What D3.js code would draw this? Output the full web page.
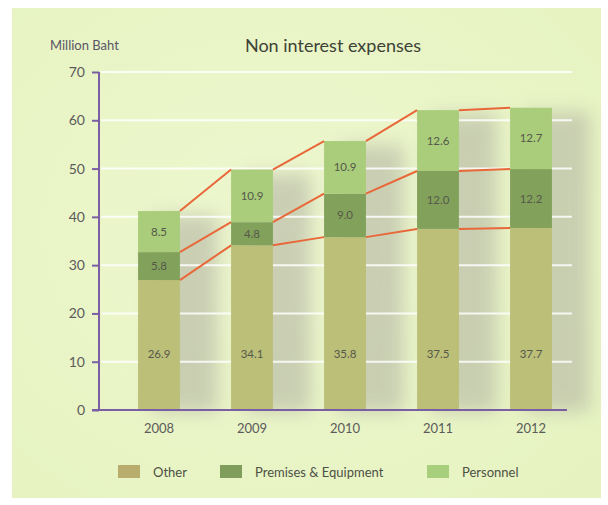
<!DOCTYPE html>
<html>
<head>
<meta charset="utf-8">
<script src="https://cdn.jsdelivr.net/npm/d3@7/dist/d3.min.js"></script>
<style>
  html, body { margin: 0; padding: 0; background: #ffffff; }
  svg { display: block; font-family: "Lato", "Open Sans", sans-serif; }
</style>
</head>
<body>
<svg id="chart" width="608" height="505"></svg>
<script>
// Non interest expenses, million Baht
const years = ["2008", "2009", "2010", "2011", "2012"];
const other = [26.9, 34.1, 35.8, 37.5, 37.7];
const premises = [5.8, 4.8, 9.0, 12.0, 12.2];
const personnel = [8.5, 10.9, 10.9, 12.6, 12.7];
const seriesNames = ["Other", "Premises & Equipment", "Personnel"];
const yTicks = [0, 10, 20, 30, 40, 50, 60, 70];

const colors = {
  "Other": "#bcbf78",
  "Premises & Equipment": "#82a25c",
  "Personnel": "#a9cd7a"
};
const legendColors = {
  "Other": "#b9ad6e",
  "Premises & Equipment": "#7f9e5c",
  "Personnel": "#a8d07c"
};

const rows = years.map((y, i) => ({
  year: y,
  "Other": other[i],
  "Premises & Equipment": premises[i],
  "Personnel": personnel[i]
}));
const stacked = d3.stack().keys(seriesNames)(rows);

const svg = d3.select("#chart");

const defs = svg.append("defs");
defs.append("filter").attr("id", "soft")
  .attr("x", "-60%").attr("y", "-20%").attr("width", "220%").attr("height", "140%")
  .append("feGaussianBlur").attr("stdDeviation", 9);
const panelGrad = defs.append("radialGradient").attr("id", "panelGrad")
  .attr("cx", "45%").attr("cy", "45%").attr("r", "75%");
panelGrad.append("stop").attr("offset", "0%").attr("stop-color", "#eef7cf");
panelGrad.append("stop").attr("offset", "100%").attr("stop-color", "#e6f3c0");

// panel
svg.append("rect")
  .attr("x", 12).attr("y", 8).attr("width", 589).attr("height", 490)
  .attr("fill", "url(#panelGrad)");

const x = d3.scaleBand().domain(years).range([112.5, 577.5])
  .paddingInner(0.55).paddingOuter(0.275);
const y = d3.scaleLinear().domain([0, 70]).range([410, 72]);
const total = i => other[i] + premises[i] + personnel[i];

// soft bar shadows
svg.append("g").selectAll("rect")
  .data(rows)
  .join("rect")
  .attr("x", d => x(d.year) + 14)
  .attr("y", (d, i) => y(total(i)) + 4)
  .attr("width", x.bandwidth() + 24)
  .attr("height", (d, i) => y(0) - y(total(i)) - 2)
  .attr("fill", "#a9a99c")
  .attr("opacity", 0.5)
  .attr("filter", "url(#soft)");

// white gridlines
svg.append("g").selectAll("line")
  .data(yTicks.filter(t => t > 0))
  .join("line")
  .attr("x1", 101).attr("x2", 572)
  .attr("y1", d => y(d)).attr("y2", d => y(d))
  .attr("stroke", "#ffffff").attr("stroke-width", 2).attr("opacity", 0.85);

// stacked bars
const layer = svg.append("g").selectAll("g")
  .data(stacked)
  .join("g")
  .attr("fill", d => colors[d.key]);
layer.selectAll("rect")
  .data(d => d)
  .join("rect")
  .attr("x", d => x(d.data.year))
  .attr("y", d => y(d[1]))
  .attr("width", x.bandwidth())
  .attr("height", d => y(d[0]) - y(d[1]));

// connecting lines between segment tops
const connectors = svg.append("g")
  .attr("stroke", "#e8683a").attr("stroke-width", 2).attr("fill", "none");
stacked.forEach(s => {
  for (let i = 0; i < s.length - 1; i++) {
    connectors.append("line")
      .attr("x1", x(years[i]) + x.bandwidth())
      .attr("y1", y(s[i][1]))
      .attr("x2", x(years[i + 1]))
      .attr("y2", y(s[i + 1][1]));
  }
});

// value labels: the base segment labels share one baseline
const labels = svg.append("g")
  .attr("font-size", 11.5).attr("fill", "#55584a").attr("text-anchor", "middle");
stacked.forEach(s => {
  s.forEach(d => {
    const v = d[1] - d[0];
    labels.append("text")
      .attr("x", x(d.data.year) + x.bandwidth() / 2)
      .attr("y", s.key === "Other" ? y(11.7) + 4 : (y(d[0]) + y(d[1])) / 2 + 4)
      .text(v.toFixed(1));
  });
});

// y axis
const yAxis = svg.append("g")
  .attr("transform", "translate(99,0)")
  .call(d3.axisLeft(y).tickValues(yTicks).tickSize(7).tickPadding(7));
yAxis.select(".domain").attr("stroke", "#7a5fa5").attr("stroke-width", 2)
  .attr("d", `M0,${y(70)}V${y(0)}`);
yAxis.selectAll(".tick line").attr("stroke", "#7a5fa5").attr("stroke-width", 2);
yAxis.selectAll(".tick text").attr("font-size", 14).attr("fill", "#5b5b5b")
  .attr("font-family", "Lato, sans-serif");

// x axis
svg.append("line")
  .attr("x1", 92).attr("x2", 567).attr("y1", y(0)).attr("y2", y(0))
  .attr("stroke", "#7a5fa5").attr("stroke-width", 2);
const xAxis = svg.append("g")
  .attr("transform", `translate(0,${y(0)})`)
  .call(d3.axisBottom(x).tickSize(0).tickPadding(14));
xAxis.select(".domain").remove();
xAxis.selectAll(".tick text").attr("font-size", 13).attr("fill", "#5b5b5b")
  .attr("font-family", "Lato, sans-serif");

// titles
svg.append("text").attr("x", 50).attr("y", 50)
  .attr("font-size", 13).attr("fill", "#5a5566").text("Million Baht");
svg.append("text").attr("x", 333).attr("y", 52).attr("text-anchor", "middle")
  .attr("font-size", 18).attr("fill", "#3d4236").text("Non interest expenses");

// legend
const legendPos = [
  { sx: 118, tx: 153 },
  { sx: 220, tx: 255 },
  { sx: 427, tx: 462 }
];
const legend = svg.append("g");
seriesNames.forEach((name, i) => {
  legend.append("rect")
    .attr("x", legendPos[i].sx).attr("y", 465)
    .attr("width", 22).attr("height", 13)
    .attr("fill", legendColors[name]);
  legend.append("text")
    .attr("x", legendPos[i].tx).attr("y", 477)
    .attr("font-size", 13).attr("fill", "#4d5045")
    .text(name);
});
</script>
</body>
</html>
